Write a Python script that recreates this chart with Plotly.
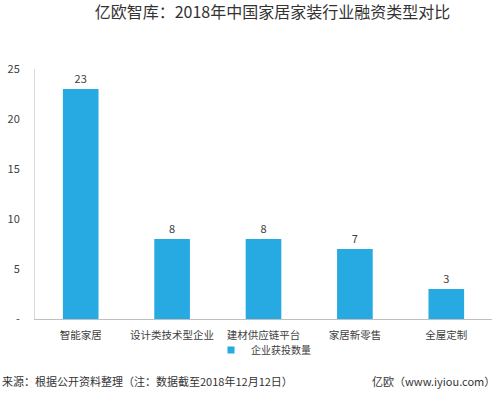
import plotly.graph_objects as go

categories = ["智能家居", "设计类技术型企业", "建材供应链平台", "家居新零售", "全屋定制"]
values = [23, 8, 8, 7, 3]
series_name = "企业获投数量"
ytick_vals = [0, 5, 10, 15, 20, 25]
ytick_text = ["-", "5", "10", "15", "20", "25"]

FONT = "Noto Sans CJK SC"
BLUE = "#27A9E1"

fig = go.Figure()
fig.add_trace(go.Bar(
    x=categories, y=values, name=series_name, showlegend=False,
    marker=dict(color=BLUE, line=dict(width=0)),
    width=0.39,
    text=[str(v) for v in values], textposition="outside",
    textfont=dict(size=11, color="#404040", family=FONT),
    cliponaxis=False,
))
# legend entry with a small square marker
fig.add_trace(go.Scatter(
    x=[None], y=[None], mode="markers", name=series_name,
    marker=dict(symbol="square", size=7, color=BLUE),
))

fig.update_layout(
    width=500, height=393,
    margin=dict(l=35, r=8, t=69, b=74),
    paper_bgcolor="white", plot_bgcolor="white",
    font=dict(family=FONT, color="#404040", size=11),
    title=dict(text="亿欧智库：2018年中国家居家装行业融资类型对比",
               x=0.545, xanchor="center", y=0.968, yanchor="middle",
               font=dict(size=16, color="#333333", family=FONT)),
    showlegend=True,
    legend=dict(orientation="h", x=0.5, xanchor="center", y=-31/250, yanchor="middle",
                font=dict(size=10, color="#404040"), itemwidth=30,
                bgcolor="rgba(0,0,0,0)"),
    xaxis=dict(showline=True, linecolor="#BFBFBF", linewidth=1, ticks="",
               tickfont=dict(size=10.5, color="#404040"), showgrid=False,
               ticklabelstandoff=6, automargin=False),
    yaxis=dict(range=[0, 25], tickvals=ytick_vals, ticktext=ytick_text,
               showline=True, linecolor="#D9D9D9", linewidth=1, showgrid=False,
               zeroline=False, ticks="", ticklabelstandoff=12, automargin=False,
               tickfont=dict(size=11, color="#404040")),
    bargap=0.6,
)

fig.add_annotation(text="来源：根据公开资料整理（注：数据截至2018年12月12日）",
                   xref="paper", yref="paper", x=-35/457, xanchor="left",
                   y=-62/250, yanchor="middle", showarrow=False,
                   font=dict(size=11, color="#333333"))
fig.add_annotation(text="亿欧（www.iyiou.com）",
                   xref="paper", yref="paper", x=1.012, xanchor="right",
                   y=-62/250, yanchor="middle", showarrow=False,
                   font=dict(size=11, color="#333333"))

fig.write_html("out.html", config={"displayModeBar": False},
               post_script="document.body.style.margin='0';document.body.style.overflow='hidden';")
